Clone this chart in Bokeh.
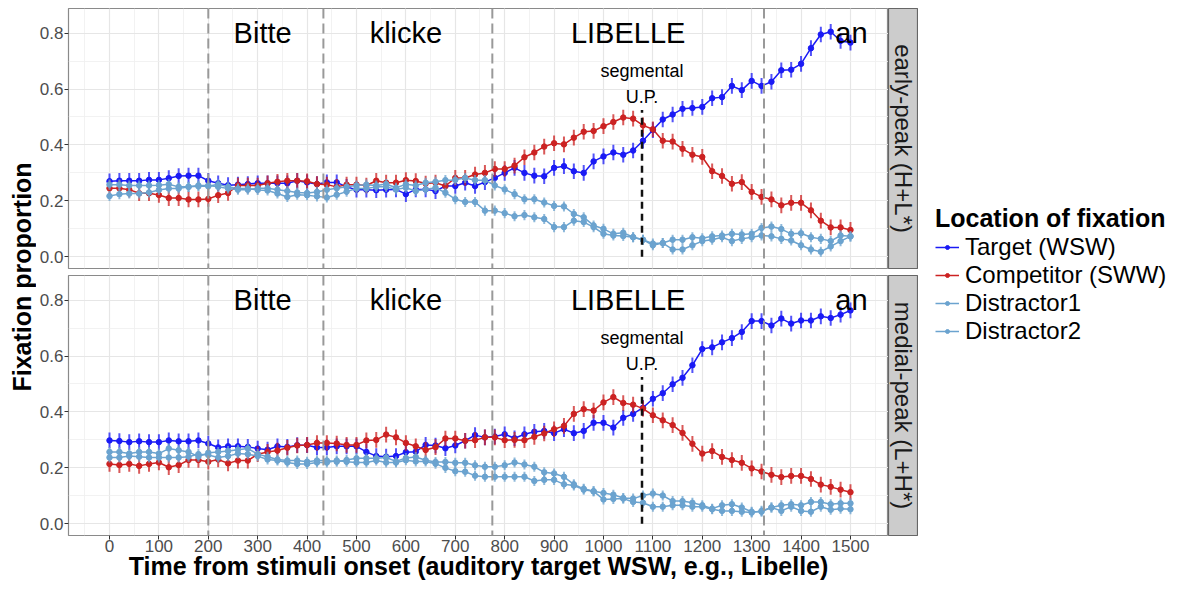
import math
from bokeh.plotting import figure
from bokeh.layouts import row, column
from bokeh.models import (Range1d, Span, Label, Legend, LegendItem, FixedTicker,
                          SingleIntervalTicker, ColumnDataSource, PrintfTickFormatter)
from bokeh.core.properties import value
from bokeh.embed import file_html
from bokeh.resources import INLINE

FONT = "Liberation Sans"

# ---------------- data ----------------
time_ms = list(range(0, 1501, 20))

series_names = ["Target (WSW)", "Competitor (SWW)", "Distractor1", "Distractor2"]
series_colors = ["#1A1AF5", "#CC2222", "#6BA3CF", "#6BA3CF"]
series_se = [0.028, 0.028, 0.018, 0.018]

panel_labels = ["early-peak (H+L*)", "medial-peak (L+H*)"]

# early-peak (H+L*)
early_target = [0.27, 0.272, 0.272, 0.272, 0.275, 0.275, 0.281, 0.289, 0.29, 0.29,
                0.272, 0.263, 0.256, 0.258, 0.26, 0.263, 0.263, 0.263, 0.263, 0.272,
                0.266, 0.26, 0.266, 0.266, 0.25, 0.24, 0.24, 0.238, 0.24,
                0.241, 0.224, 0.241, 0.241, 0.235, 0.253, 0.253, 0.265, 0.253, 0.267,
                0.282, 0.3, 0.318, 0.3, 0.29, 0.288, 0.318, 0.324, 0.306, 0.3,
                0.341, 0.359, 0.373, 0.365, 0.38,
                0.415, 0.453, 0.491, 0.509, 0.529, 0.532, 0.536, 0.567, 0.571, 0.611,
                0.596, 0.629, 0.611, 0.626, 0.667, 0.669, 0.69, 0.746, 0.795, 0.805,
                0.772, 0.766]
early_competitor = [0.245, 0.245, 0.24, 0.227, 0.227, 0.221, 0.21, 0.21, 0.205, 0.205,
                    0.207, 0.22, 0.228, 0.255, 0.255, 0.255, 0.263, 0.268, 0.272, 0.272,
                    0.27, 0.26, 0.258, 0.25, 0.258, 0.258, 0.255, 0.272, 0.265,
                    0.265, 0.274, 0.271, 0.262, 0.265, 0.253, 0.282, 0.282, 0.294, 0.3,
                    0.314, 0.314, 0.326, 0.356, 0.373, 0.394, 0.406, 0.402, 0.426, 0.447,
                    0.45, 0.467, 0.482, 0.498, 0.494,
                    0.47, 0.456, 0.415, 0.412, 0.386, 0.365, 0.357, 0.306, 0.289, 0.261,
                    0.267, 0.232, 0.214, 0.205, 0.184, 0.193, 0.193, 0.166, 0.129, 0.105,
                    0.105, 0.096]
early_distractor1 = [0.258, 0.258, 0.255, 0.255, 0.255, 0.256, 0.259, 0.25, 0.25, 0.255,
                     0.255, 0.25, 0.244, 0.24, 0.24, 0.245, 0.245, 0.24, 0.235, 0.23,
                     0.228, 0.232, 0.24, 0.245, 0.25, 0.255, 0.258, 0.255, 0.26,
                     0.247, 0.259, 0.255, 0.265, 0.268, 0.274, 0.275, 0.282, 0.274, 0.274,
                     0.255, 0.241, 0.224, 0.206, 0.206, 0.194, 0.182, 0.18, 0.153, 0.141,
                     0.112, 0.1, 0.082, 0.086, 0.07,
                     0.061, 0.047, 0.049, 0.061, 0.061, 0.07, 0.066, 0.073, 0.076, 0.082,
                     0.08, 0.082, 0.103, 0.108, 0.099, 0.082, 0.084, 0.07, 0.064, 0.056,
                     0.076, 0.073]
early_distractor2 = [0.217, 0.224, 0.226, 0.226, 0.23, 0.239, 0.244, 0.244, 0.25, 0.252,
                     0.252, 0.259, 0.25, 0.244, 0.244, 0.239, 0.237, 0.226, 0.214, 0.222,
                     0.22, 0.216, 0.212, 0.222, 0.233, 0.244, 0.244, 0.25, 0.25,
                     0.241, 0.247, 0.235, 0.241, 0.247, 0.229, 0.206, 0.196, 0.196, 0.165,
                     0.165, 0.156, 0.145, 0.149, 0.141, 0.135, 0.106, 0.106, 0.129, 0.124,
                     0.106, 0.082, 0.076, 0.074, 0.07,
                     0.061, 0.041, 0.049, 0.026, 0.026, 0.041, 0.056, 0.061, 0.07, 0.056,
                     0.064, 0.07, 0.076, 0.073, 0.064, 0.058, 0.041, 0.026, 0.018, 0.037,
                     0.056, 0.073]

# medial-peak (L+H*)
medial_target = [0.298, 0.296, 0.292, 0.295, 0.292, 0.292, 0.298, 0.295, 0.295, 0.298,
                 0.287, 0.273, 0.277, 0.277, 0.275, 0.269, 0.265, 0.277, 0.275, 0.281,
                 0.281, 0.273, 0.273, 0.277, 0.277, 0.277, 0.257, 0.242, 0.24,
                 0.242, 0.256, 0.258, 0.282, 0.28, 0.27, 0.28, 0.297, 0.317, 0.309,
                 0.312, 0.32, 0.306, 0.32, 0.329, 0.332, 0.324, 0.338, 0.324, 0.332,
                 0.361, 0.361, 0.344, 0.379, 0.393,
                 0.415, 0.447, 0.467, 0.499, 0.522, 0.567, 0.625, 0.631, 0.649, 0.664,
                 0.686, 0.725, 0.725, 0.709, 0.734, 0.716, 0.727, 0.727, 0.742, 0.736,
                 0.748, 0.763]
medial_competitor = [0.214, 0.21, 0.214, 0.207, 0.214, 0.219, 0.202, 0.21, 0.228, 0.228,
                     0.222, 0.23, 0.216, 0.226, 0.226, 0.249, 0.257, 0.262, 0.272, 0.28,
                     0.282, 0.289, 0.289, 0.287, 0.282, 0.282, 0.298, 0.3, 0.319,
                     0.309, 0.289, 0.277, 0.264, 0.274, 0.305, 0.305, 0.297, 0.299, 0.309,
                     0.309, 0.299, 0.3, 0.299, 0.311, 0.323, 0.338, 0.35, 0.393, 0.41,
                     0.405, 0.434, 0.453, 0.432, 0.426,
                     0.412, 0.388, 0.37, 0.353, 0.325, 0.286, 0.251, 0.26, 0.239, 0.228,
                     0.218, 0.198, 0.187, 0.175, 0.167, 0.171, 0.171, 0.16, 0.14, 0.132,
                     0.122, 0.113]
medial_distractor1 = [0.257, 0.257, 0.251, 0.257, 0.257, 0.251, 0.269, 0.263, 0.257, 0.24,
                      0.254, 0.257, 0.26, 0.265, 0.269, 0.249, 0.24, 0.23, 0.226, 0.226,
                      0.222, 0.226, 0.226, 0.222, 0.228, 0.234, 0.234, 0.234, 0.237,
                      0.223, 0.235, 0.239, 0.227, 0.221, 0.221, 0.218, 0.218, 0.209, 0.204,
                      0.204, 0.209, 0.219, 0.212, 0.204, 0.184, 0.18, 0.168, 0.141, 0.125,
                      0.116, 0.11, 0.104, 0.092, 0.09,
                      0.101, 0.108, 0.101, 0.081, 0.081, 0.075, 0.066, 0.054, 0.066, 0.07,
                      0.058, 0.043, 0.043, 0.058, 0.066, 0.07, 0.066, 0.078, 0.078, 0.07,
                      0.073, 0.073]
medial_distractor2 = [0.237, 0.237, 0.242, 0.24, 0.237, 0.237, 0.237, 0.237, 0.24, 0.249,
                      0.246, 0.237, 0.242, 0.251, 0.249, 0.242, 0.23, 0.226, 0.219, 0.214,
                      0.214, 0.219, 0.219, 0.226, 0.222, 0.219, 0.219, 0.226, 0.219,
                      0.219, 0.227, 0.223, 0.223, 0.215, 0.2, 0.188, 0.186, 0.172, 0.168,
                      0.168, 0.168, 0.168, 0.168, 0.153, 0.157, 0.157, 0.141, 0.137, 0.122,
                      0.116, 0.087, 0.089, 0.09, 0.078,
                      0.075, 0.061, 0.061, 0.066, 0.066, 0.061, 0.061, 0.052, 0.046, 0.046,
                      0.043, 0.04, 0.046, 0.058, 0.046, 0.061, 0.046, 0.043, 0.061, 0.05,
                      0.054, 0.052]

# annotations (time in ms)
word_bounds = [200, 433, 775, 1325]
words = ["Bitte", "klicke", "LIBELLE", "an"]
word_x = [310, 600, 1050, 1502]
word_y = 0.8
up_time = 1078
up_top = 0.525
up_text = ["segmental", "U.P."]
up_text_y = [0.665, 0.57]

x_ticks_interval = 100
y_ticks = [0.0, 0.2, 0.4, 0.6, 0.8]
y_minor = [0.1, 0.3, 0.5, 0.7]


def make_panel(height, mbt, mbb, show_x, vals_list):
    p = figure(width=852, height=height, x_range=Range1d(-83, 1577),
               y_range=Range1d(-0.042, 0.888), output_backend="svg",
               toolbar_location=None, min_border_left=31, min_border_right=0,
               min_border_top=mbt, min_border_bottom=mbb,
               x_axis_location="below" if show_x else None)
    p.outline_line_color = "#8A8A8A"
    p.outline_line_width = 1.2
    xt = SingleIntervalTicker(interval=x_ticks_interval, num_minor_ticks=2)
    p.xgrid.ticker = xt
    p.ygrid.ticker = FixedTicker(ticks=y_ticks, minor_ticks=y_minor)
    for g in (p.xgrid, p.ygrid):
        g.grid_line_color = "#E6E6E6"
        g.grid_line_width = 1.2
        g.minor_grid_line_color = "#EFEFEF"
        g.minor_grid_line_width = 0.8
    p.yaxis.ticker = FixedTicker(ticks=y_ticks, minor_ticks=y_minor)
    p.yaxis.formatter = PrintfTickFormatter(format="%.1f")
    axes = [p.yaxis[0]] + ([p.xaxis[0]] if show_x else [])
    for ax in axes:
        ax.axis_line_color = None
        ax.major_tick_line_color = "#333333"
        ax.major_tick_out = 4
        ax.major_tick_in = 0
        ax.minor_tick_line_color = None
        ax.major_label_text_font = FONT
        ax.major_label_text_font_size = "17px"
        ax.major_label_text_color = "#4D4D4D"
        ax.major_label_standoff = 1
    if show_x:
        p.xaxis.ticker = xt
        p.xaxis.major_label_standoff = 0
        p.xaxis.axis_label = "Time from stimuli onset (auditory target WSW, e.g., Libelle)"
        p.xaxis.axis_label_text_font = FONT
        p.xaxis.axis_label_text_font_size = "25px"
        p.xaxis.axis_label_text_font_style = "bold"
        p.xaxis.axis_label_text_color = "black"
        p.xaxis.axis_label_standoff = -3

    for b in word_bounds:
        p.add_layout(Span(location=b, dimension="height", line_color="#999999",
                          line_width=2, line_dash="10 5"))

    for vals, color, se in zip(vals_list, series_colors, series_se):
        src = ColumnDataSource(dict(t=time_ms, v=vals,
                                    lo=[v - se for v in vals],
                                    hi=[v + se for v in vals]))
        p.segment("t", "lo", "t", "hi", source=src, line_color=color,
                  line_width=2, line_alpha=0.75)
        p.line("t", "v", source=src, line_color=color, line_width=1.5)
        p.scatter("t", "v", source=src, size=5.5, fill_color=color, line_color=color)

    p.segment(x0=[up_time], y0=[0], x1=[up_time], y1=[up_top], line_color="#111111",
              line_width=2.5, line_dash="7 5")
    p.text(x=word_x, y=[word_y] * len(words), text=words, text_font=value(FONT),
           text_font_size="29px", text_align="center", text_baseline="middle",
           text_color="black")
    p.text(x=[up_time] * 2, y=up_text_y, text=up_text, text_font=value(FONT),
           text_font_size="18px", text_align="center", text_baseline="middle",
           text_color="black")
    return p


def make_strip(height, mbt, mbb, label):
    s = figure(width=30, height=height, x_range=Range1d(0, 1), y_range=Range1d(0, 1),
               output_backend="svg", toolbar_location=None, min_border_left=0,
               min_border_right=0, min_border_top=mbt, min_border_bottom=mbb,
               x_axis_location=None, y_axis_location=None)
    s.grid.visible = False
    s.background_fill_color = "#CCCCCC"
    s.outline_line_color = "#666666"
    s.outline_line_width = 1.2
    s.add_layout(Label(x=0.5, y=0.5, text=label, angle=-math.pi / 2,
                       text_align="center", text_baseline="middle",
                       text_font=FONT, text_font_size="24px", text_color="#1A1A1A"))
    return s


top_h, top_mbt, top_mbb = 271, 8, 3
bot_h, bot_mbt, bot_mbb = 311, 4, 47

p_top = make_panel(top_h, top_mbt, top_mbb, False,
                   [early_target, early_competitor, early_distractor1, early_distractor2])
p_bot = make_panel(bot_h, bot_mbt, bot_mbb, True,
                   [medial_target, medial_competitor, medial_distractor1, medial_distractor2])
s_top = make_strip(top_h, top_mbt, top_mbb, panel_labels[0])
s_bot = make_strip(bot_h, bot_mbt, bot_mbb, panel_labels[1])

# y axis title spanning both panels
p_ylab = figure(width=36, height=top_h + bot_h, x_range=Range1d(0, 1), y_range=Range1d(0, 1),
                output_backend="svg", toolbar_location=None, min_border=0,
                x_axis_location=None, y_axis_location=None)
p_ylab.grid.visible = False
p_ylab.outline_line_color = None
p_ylab.add_layout(Label(x=0.61, y=0.525, text="Fixation proportion", angle=math.pi / 2,
                        text_align="center", text_baseline="middle", text_font=FONT,
                        text_font_size="25px", text_font_style="bold", text_color="black"))

# legend (proxy renderers use the real series, kept outside the blank legend panel's view)
p_leg = figure(width=255, height=top_h + bot_h, x_range=Range1d(-2, -1), y_range=Range1d(-2, -1),
               output_backend="svg", toolbar_location=None, min_border=0,
               x_axis_location=None, y_axis_location=None)
p_leg.grid.visible = False
p_leg.outline_line_color = None
items = []
for name, color, vals in zip(series_names, series_colors,
                             [early_target, early_competitor, early_distractor1, early_distractor2]):
    rl = p_leg.line(x=time_ms, y=vals, line_color=color, line_width=1.5)
    rs = p_leg.scatter(x=time_ms, y=vals, size=5, fill_color=color, line_color=color)
    items.append(LegendItem(label=name, renderers=[rl, rs]))
legend = Legend(items=items, title="Location of fixation", location=(17, 237),
                title_text_font=FONT, title_text_font_style="bold",
                title_text_font_size="25px", title_text_color="black",
                label_text_font=FONT, label_text_font_size="24px", label_text_color="black",
                glyph_width=24, glyph_height=10, label_standoff=6, spacing=0,
                padding=0, margin=0, border_line_color=None, background_fill_alpha=0,
                title_standoff=0)
p_leg.add_layout(legend)

layout = row(p_ylab, column(row(p_top, s_top), row(p_bot, s_bot)), p_leg)

open("out.html", "w").write(file_html(layout, INLINE))
